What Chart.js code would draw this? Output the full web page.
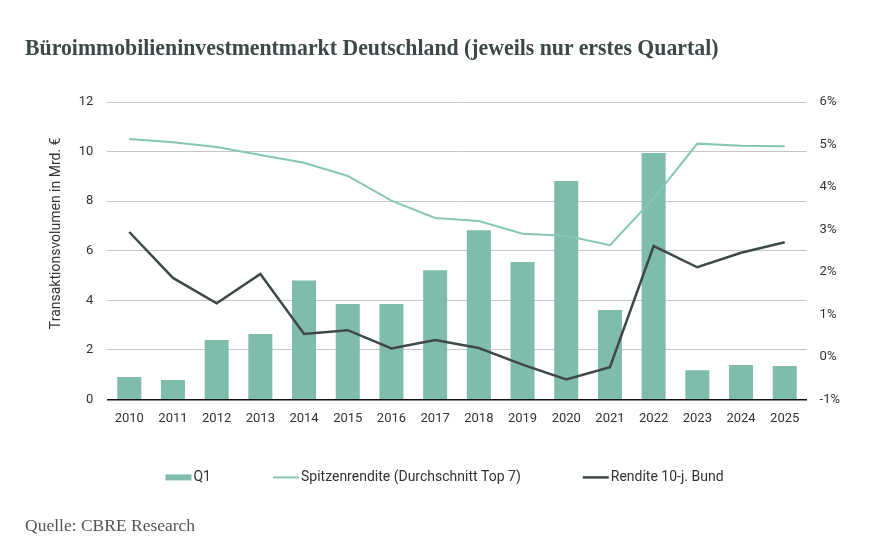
<!DOCTYPE html>
<html>
<head>
<meta charset="utf-8">
<script src="https://cdn.jsdelivr.net/npm/chart.js@4.4.1/dist/chart.umd.min.js"></script>
<style>
  html, body { margin: 0; padding: 0; background: #fff; }
  #wrap { position: absolute; left: 0; top: 0; width: 883px; height: 544px; }
  #title {
    position: absolute; left: 25px; top: 34px; white-space: nowrap;
    font: bold 24px "Liberation Serif", serif; color: #3d4848;
    transform: scaleX(0.908); transform-origin: left top;
  }
  #source {
    position: absolute; left: 25px; top: 515px; white-space: nowrap;
    font: 17.5px "Liberation Serif", serif; color: #555;
  }
</style>
</head>
<body>
<div id="wrap"><canvas id="myChart"></canvas></div>
<div id="title">Büroimmobilieninvestmentmarkt Deutschland (jeweils nur erstes Quartal)</div>
<div id="source">Quelle: CBRE Research</div>
<script>
const years = ['2010','2011','2012','2013','2014','2015','2016','2017','2018','2019','2020','2021','2022','2023','2024','2025'];
// Transaktionsvolumen Q1 in Mrd. €
const volumeQ1 = [0.9, 0.78, 2.4, 2.64, 4.8, 3.85, 3.85, 5.21, 6.83, 5.54, 8.81, 3.61, 9.94, 1.18, 1.39, 1.35];
// Spitzenrendite (Durchschnitt Top 7) in %
const primeYield = [5.13, 5.05, 4.94, 4.75, 4.57, 4.26, 3.68, 3.27, 3.2, 2.9, 2.85, 2.63, 3.73, 5.02, 4.97, 4.96];
// Rendite 10-j. Bund in %
const bundYield = [2.94, 1.86, 1.26, 1.95, 0.54, 0.63, 0.2, 0.4, 0.21, -0.18, -0.53, -0.24, 2.61, 2.11, 2.45, 2.7];

const barColor = '#80bcab';
const primeColor = '#86c6b3';
const bundColor = '#3f4848';
const tickFont = { family: 'Roboto', size: 13 };

// legend drawn below the x axis, items centred on the canvas
const bottomLegend = {
  id: 'bottomLegend',
  afterDraw(chart) {
    const c = chart.ctx;
    const area = chart.chartArea;
    const sw = 26, gap = 2, spacing = 62;
    c.save();
    c.font = '14px Roboto';
    const items = chart.data.datasets.map(ds => ({
      text: ds.label,
      color: ds.type === 'line' ? ds.borderColor : ds.backgroundColor,
      h: ds.type === 'line' ? ds.borderWidth : 6,
      w: c.measureText(ds.label).width
    }));
    let total = spacing * (items.length - 1);
    items.forEach(it => { total += sw + gap + it.w; });
    let x = (chart.width - total) / 2 + 3;
    const y = area.bottom + 78;
    c.textBaseline = 'middle';
    items.forEach(it => {
      c.fillStyle = it.color;
      c.fillRect(x, y - it.h / 2, sw, it.h);
      c.fillStyle = '#333';
      c.fillText(it.text, x + sw + gap, y);
      x += sw + gap + it.w + spacing;
    });
    c.restore();
  }
};

const ctx = document.getElementById('myChart');
new Chart(ctx, {
  type: 'bar',
  data: {
    labels: years,
    datasets: [
      {
        label: 'Q1',
        data: volumeQ1,
        backgroundColor: barColor,
        yAxisID: 'y',
        order: 3,
        barPercentage: 0.55,
        categoryPercentage: 1
      },
      {
        type: 'line',
        label: 'Spitzenrendite (Durchschnitt Top 7)',
        data: primeYield,
        borderColor: primeColor,
        backgroundColor: primeColor,
        borderWidth: 2,
        pointRadius: 0,
        tension: 0,
        yAxisID: 'y1',
        order: 2
      },
      {
        type: 'line',
        label: 'Rendite 10-j. Bund',
        data: bundYield,
        borderColor: bundColor,
        backgroundColor: bundColor,
        borderWidth: 2.5,
        pointRadius: 0,
        tension: 0,
        yAxisID: 'y1',
        order: 1
      }
    ]
  },
  plugins: [bottomLegend],
  options: {
    responsive: true,
    maintainAspectRatio: false,
    animation: false,
    layout: { padding: { top: 102, left: 48, right: 30, bottom: 113 } },
    plugins: {
      tooltip: { enabled: false },
      legend: { display: false }
    },
    scales: {
      x: {
        grid: { display: false },
        border: { display: true, color: '#111', width: 1.5 },
        ticks: { color: '#333', font: tickFont, padding: 4, maxRotation: 0 }
      },
      y: {
        position: 'left',
        min: 0, max: 12,
        ticks: { stepSize: 2, color: '#333', padding: 14, font: tickFont },
        grid: { color: '#c6c6c6', lineWidth: 1, drawTicks: false },
        border: { display: false },
        title: {
          display: true,
          // leading spaces nudge the rotated title up a little, as in the original
          text: '          Transaktionsvolumen in Mrd. €',
          color: '#333',
          font: { family: 'Roboto', size: 14 },
          padding: { top: 0, bottom: 0 }
        }
      },
      y1: {
        position: 'right',
        min: -1, max: 6,
        ticks: {
          stepSize: 1, color: '#333', padding: 13,
          font: tickFont,
          callback: v => v + '%'
        },
        grid: { drawOnChartArea: false, drawTicks: false },
        border: { display: false }
      }
    }
  }
});
</script>
</body>
</html>
